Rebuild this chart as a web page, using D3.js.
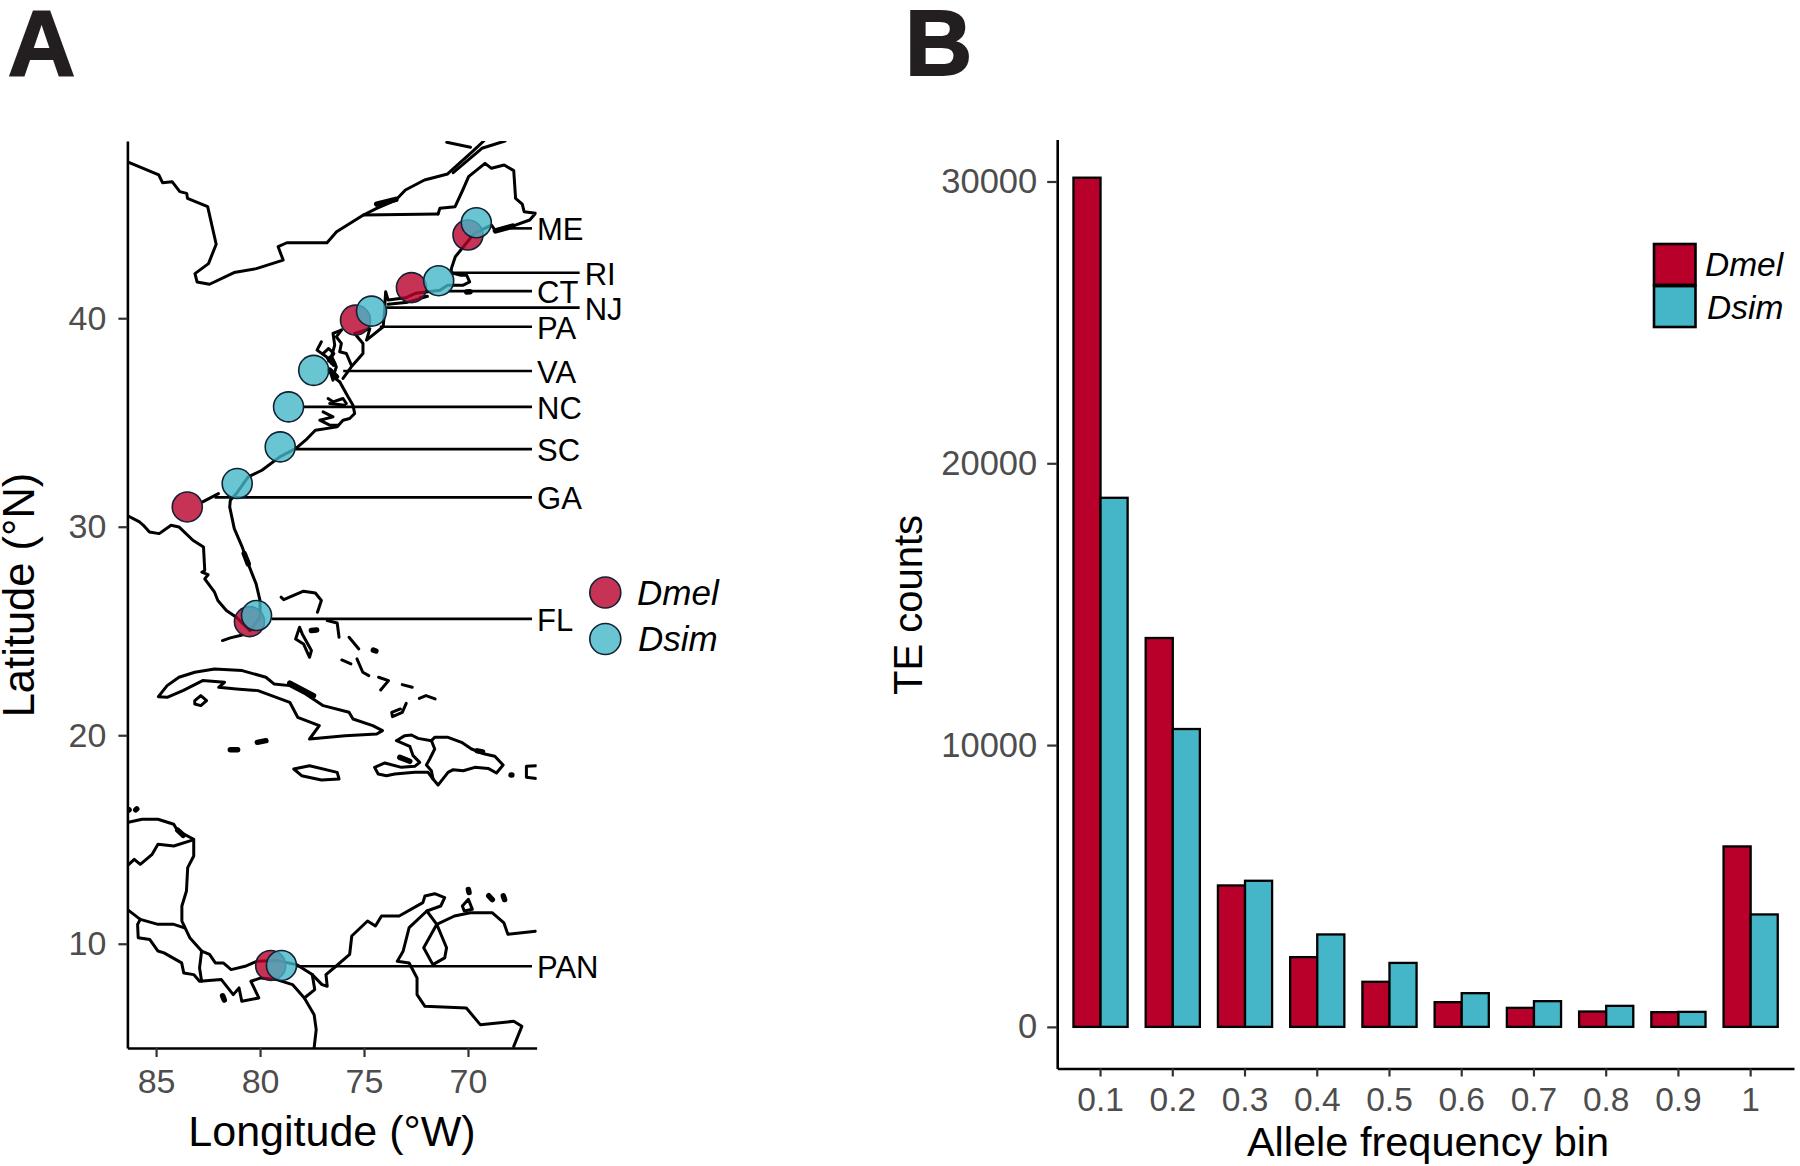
<!DOCTYPE html>
<html>
<head>
<meta charset="utf-8">
<script src="https://cdnjs.cloudflare.com/ajax/libs/d3/7.8.5/d3.min.js"></script>
<style>
  html, body { margin: 0; background: #fff; }
  svg { display: block; font-family: "Liberation Sans", Arial, sans-serif; }
  .axis .domain { stroke: #000; stroke-width: 2.6; }
  .axis line { stroke: #333; stroke-width: 2.2; }
  .axis text { fill: #4d4d4d; }
</style>
</head>
<body>
<svg id="chart" width="1800" height="1166"></svg>
<script>
// panel B values
const bins = ['0.1', '0.2', '0.3', '0.4', '0.5', '0.6', '0.7', '0.8', '0.9', '1'];
const dmelCounts = [30135, 13800, 5019, 2475, 1600, 877, 675, 545, 522, 6404];
const dsimCounts = [18775, 10570, 5185, 3280, 2270, 1196, 912, 746, 533, 3990];
const countTicks = [0, 10000, 20000, 30000];
const species = ['Dmel', 'Dsim'];

// panel A sampling sites, [lon W, lat N]
const dmelSites = [[70.0, 43.99], [72.72, 41.47], [75.41, 39.91], [83.5, 30.95], [80.51, 25.45], [79.49, 8.96]];
const dsimSites = [[69.6, 44.58], [71.41, 41.8], [74.64, 40.34], [77.42, 37.5], [78.63, 35.75], [79.03, 33.83], [81.1, 32.07], [80.17, 25.74], [78.97, 8.96]];
const lonTicks = [85, 80, 75, 70];
const latTicks = [10, 20, 30, 40];

// site labels: name, lat of leader, lon where leader starts, lon where it ends
const siteLabels = [
  ['ME', 44.31, 67.99, 66.92], ['RI', 42.18, 70.72, 64.63], ['CT', 41.30, 70.96, 66.92],
  ['NJ', 40.51, 73.92, 64.63], ['PA', 39.59, 74.24, 66.92], ['VA', 37.47, 76.0, 66.92],
  ['NC', 35.75, 77.9, 66.92], ['SC', 33.72, 78.29, 66.92], ['GA', 31.41, 82.19, 66.92],
  ['FL', 25.58, 79.43, 66.92], ['PAN', 8.92, 78.25, 66.92]
];

// coast and border outlines, [lon W, lat N]
const lakesBorder = [[86.4,47.51],[84.87,46.87],[84.69,46.5],[84.23,46.55],[83.86,46.07],[83.53,45.99],[83.49,45.75],[82.52,45.35],[82.11,43.55],[82.48,42.62],[83.13,42.14],[83.03,41.74],[82.43,41.63],[81.25,42.19],[80.18,42.38],[78.89,42.79],[79.13,43.43],[78.71,43.62],[76.78,43.62],[76.32,44.15],[75.03,44.95],[71.44,45.0]];
const stLawrence = [[75.03,44.95],[74.39,45.27],[73.47,45.67],[73.01,46.15],[72.09,46.63],[70.98,46.92],[69.79,47.99],[69.24,48.5]];
const stLawrenceSouth = [[70.71,46.98],[69.33,48.15],[68.22,48.5]];
const saguenay = [[71.02,48.44],[69.88,48.2]];
const maineAndNewEngland = [[71.44,45.0],[71.35,45.27],[70.62,45.35],[70.25,46.15],[69.97,46.79],[69.18,47.43],[68.87,47.19],[68.26,47.35],[67.8,47.08],[67.71,45.75],[67.39,45.47],[67.3,45.11],[66.75,45.03],[67.03,44.71],[67.85,44.42],[68.68,44.19],[68.87,44.47],[69.7,44.07],[70.15,43.51],[70.61,42.95],[70.8,42.38],[70.8,42.18],[70.34,42.06],[70.06,42.06],[69.92,41.74],[70.25,41.58],[70.98,41.58],[71.35,41.34],[72.5,41.2],[73.0,40.98],[73.84,40.87],[73.96,41.27],[74.0,40.63],[74.0,40.47],[74.08,39.59],[74.88,38.95],[74.72,39.5],[75.45,39.27],[75.05,38.79],[75.05,38.31],[75.61,37.67],[76.01,37.11]];
const longIsland = [[73.84,40.67],[72.9,40.77],[71.95,41.05],[72.3,41.0]];
const chesapeakeEast = [[76.09,39.43],[76.33,39.11],[76.09,38.79],[76.17,38.39],[75.85,38.31],[75.61,37.75]];
const chesapeakeWest = [[76.09,39.43],[76.49,39.27],[76.41,38.71],[76.57,38.15],[76.33,37.67],[76.49,37.19],[76.17,36.95]];
const potomac = [[77.05,38.87],[77.26,38.47],[76.81,38.15],[76.57,37.83]];
const rappahannock = [[76.97,38.3],[76.7,38.55],[76.45,38.3],[76.7,37.95]];
const jamesRiver = [[76.65,37.51],[76.49,37.03]];
const albemarle = [[76.73,36.15],[76.49,35.99],[76.01,36.15],[75.85,35.91]];
const albemarleSouth = [[76.65,35.91],[75.93,35.83]];
const pamlico = [[76.97,35.51],[76.49,35.27],[77.13,35.11],[76.65,34.87],[76.25,34.87]];
const southeastCoast = [[76.17,36.95],[75.77,36.23],[75.53,35.83],[75.45,35.43],[75.69,35.19],[76.01,35.11],[76.29,34.79],[77.34,34.63],[77.81,34.15],[78.29,33.75],[79.05,33.35],[79.91,32.71],[80.57,32.39],[81.14,31.59],[81.43,31.27],[81.46,30.95],[81.24,29.91],[80.86,29.03],[80.57,28.22],[80.19,27.26],[80.0,26.46],[80.0,25.66],[80.48,25.02],[81.14,25.66],[81.62,25.98],[82.03,26.46],[82.19,26.86],[82.66,27.5],[82.5,27.7],[82.8,27.82],[82.66,27.9],[82.72,29.03],[83.23,29.35],[83.9,29.99],[84.28,30.07],[84.85,29.67],[85.32,29.75],[85.61,30.07],[85.8,30.23],[86.41,30.55]];
const gaConnector = [[82.76,31.19],[82.0,31.59]];
const floridaKeys = [[81.81,24.54],[81.43,24.67],[80.86,24.81]];
const grandBahama = [[78.99,26.62],[78.86,26.5],[77.91,26.91],[77.34,26.82],[77.05,26.46],[77.24,25.9]];
const andros = [[78.29,24.62],[78.1,25.18],[77.97,24.86],[77.53,24.06],[77.62,23.74],[77.91,24.38],[78.29,24.62]];
const eleuthera = [[76.77,25.5],[76.29,25.38],[76.2,24.7]];
const catIsland = [[75.72,24.7],[75.25,24.14]];
const exuma = [[76.07,23.61],[75.63,23.42]];
const longIslandBahamas = [[75.34,23.66],[75.06,23.02],[74.77,22.86]];
const acklins = [[74.3,22.78],[73.82,22.62],[74.2,22.17]];
const mayaguana = [[73.16,22.43],[72.68,22.3]];
const caicos = [[72.34,21.77],[72.02,21.9],[71.58,21.74]];
const inagua = [[72.97,21.53],[73.16,21.1],[73.63,20.89],[73.67,21.1],[73.25,21.26]];
const cuba = [[84.89,21.85],[84.47,22.38],[83.9,22.78],[83.14,23.02],[82.19,23.18],[80.86,23.1],[79.72,22.78],[79.33,22.46],[78.57,22.38],[77.81,21.98],[76.96,21.42],[75.72,21.1],[75.53,20.78],[74.58,20.46],[74.11,20.22],[74.39,20.06],[75.91,19.98],[77.62,19.82],[77.15,20.46],[78.19,20.86],[78.57,21.58],[80.1,22.14],[81.14,22.22],[81.99,22.3],[81.71,22.54],[82.76,22.62],[83.71,22.14],[84.47,21.82],[84.89,21.85]];
const isleOfYouth = [[83.14,21.66],[82.85,21.9],[82.57,21.66],[82.85,21.42],[83.14,21.5],[83.14,21.66]];
const jamaica = [[78.38,18.38],[77.62,18.54],[76.29,18.22],[76.2,17.9],[77.05,17.85],[78.0,18.06],[78.38,18.38]];
const hispaniola = [[73.44,19.74],[73.04,19.98],[72.72,20.01],[72.4,19.85],[71.76,19.74],[71.6,19.9],[70.96,19.9],[70.31,19.66],[69.83,19.34],[69.19,19.1],[68.71,18.99],[68.31,18.57],[68.63,18.19],[69.03,18.41],[69.67,18.46],[70.23,18.3],[70.71,18.35],[70.96,18.22],[71.44,17.61],[71.68,17.9],[71.92,18.22],[72.56,18.22],[73.52,18.14],[73.92,18.06],[74.32,18.14],[74.49,18.46],[74.0,18.67],[73.2,18.46],[72.56,18.51],[72.32,18.7],[72.64,19.02],[72.8,19.47],[73.44,19.74]];
const haitiBorder = [[71.76,19.74],[71.6,19.34],[71.84,18.86],[72.0,18.57],[71.76,18.3],[71.68,17.9]];
const puertoRico = [[66.71,18.54],[67.19,18.51],[67.19,17.98],[66.71,17.93]];
const caribbeanCoast = [[86.39,15.81],[85.67,15.97],[84.91,15.97],[84.15,15.73],[83.96,15.41],[83.19,15.01],[83.19,14.21],[83.48,13.65],[83.54,12.53],[83.76,11.81],[83.76,11.09],[83.38,10.29],[82.81,9.65],[82.43,9.49],[82.15,9.08],[81.77,9.08],[81.39,8.76],[80.72,8.92],[80.15,9.16],[79.2,9.2],[78.25,9.0],[77.49,8.52],[77.02,8.04],[76.77,7.96],[76.83,8.52],[76.35,8.92],[75.69,9.49],[75.59,10.37],[74.83,11.09],[74.45,10.85],[74.16,11.33],[73.31,11.33],[72.17,11.97],[72.07,12.29],[71.6,12.4],[71.12,12.21],[71.31,11.81],[71.98,11.57],[71.5,10.93],[70.65,11.33],[69.89,11.49],[68.84,11.49],[68.27,11.0],[68.08,10.45],[66.75,10.6]];
const maracaibo = [[71.5,10.93],[72.13,9.81],[71.69,9.0],[71.12,9.32],[71.03,9.81],[71.5,10.93]];
const colombiaBorder = [[71.98,11.57],[72.83,10.77],[73.12,9.64],[73.4,9.16],[72.83,9.08],[72.45,8.36],[72.45,7.56],[72.07,7.0],[70.08,6.92],[69.41,6.12],[67.8,6.28],[67.41,6.04],[67.8,5.08]];
const nicaraguaBorder = [[86.39,11.65],[85.76,11.17],[84.91,10.93],[84.15,10.93],[83.67,10.77]];
const hondurasBorder = [[86.39,13.73],[86.05,14.05],[85.76,13.81],[85.19,14.29],[84.91,14.77],[84.15,14.69],[83.29,14.96]];
const pacificCoast = [[85.76,11.17],[85.89,10.93],[85.86,10.29],[85.3,10.2],[84.91,9.65],[84.62,9.56],[83.77,9.08],[83.67,8.6],[83.19,8.52],[82.91,8.2],[81.86,8.28],[81.29,7.56],[81.01,7.88],[80.88,7.24],[80.06,7.4],[80.44,8.2],[79.96,8.36],[79.2,8.28],[78.44,8.04],[77.87,7.4],[77.4,6.6],[77.3,5.88],[77.4,5.0]];
const panamaBorder = [[82.81,9.65],[82.91,8.84],[82.81,8.2]];
const darienGulf = [[77.87,7.4],[77.37,7.8],[77.49,8.52]];
const paraguana = [[70.27,11.81],[69.98,12.13],[69.79,11.65],[70.18,11.57],[70.27,11.81]];

const outlines = [lakesBorder, stLawrence, stLawrenceSouth, saguenay, maineAndNewEngland, longIsland,
  chesapeakeEast, chesapeakeWest, potomac, rappahannock, jamesRiver, albemarle, albemarleSouth, pamlico, southeastCoast,
  gaConnector, floridaKeys, grandBahama, andros, eleuthera, catIsland, exuma, longIslandBahamas, acklins,
  mayaguana, caicos, inagua, cuba, isleOfYouth, jamaica, hispaniola, haitiBorder, puertoRico, caribbeanCoast,
  maracaibo, colombiaBorder, nicaraguaBorder, hondurasBorder, pacificCoast, panamaBorder, darienGulf, paraguana];

// small islands and thick bits of coast
const blobs = [
  [[74.39,45.47],[73.47,45.7]], [[70.06,41.26],[69.9,41.27]], [[77.53,25.02],[77.28,25.05]],
  [[74.55,24.08],[74.43,24.04]], [[81.43,19.31],[81.08,19.31]], [[80.13,19.66],[79.72,19.74]],
  [[73.28,18.94],[72.8,18.75]], [[69.55,19.25],[69.3,19.2]], [[67.93,18.09],[67.89,18.09]],
  [[86.33,16.4],[86.3,16.42]], [[85.98,16.42],[85.93,16.47]], [[81.8,7.5],[81.72,7.3]],
  [[69.98,12.6],[69.95,12.46]], [[69.0,12.3],[68.83,12.12]], [[68.3,12.3],[68.24,12.12]],
  [[80.76,28.71],[80.57,28.22]], [[68.68,44.19],[67.85,44.42]], [[78.57,22.5],[77.43,21.9]],
  [[76.65,37.51],[76.33,37.2]], [[76.6,38.1],[76.45,37.8]], [[83.96,15.45],[83.7,15.2]]
];

const RED = '#b8002a';
const TEAL = '#45b6c8';
const svg = d3.select('#chart');

/* ---------- panel A: map ---------- */
const mapX = d3.scaleLinear().domain([86.38, 66.7]).range([127.4, 536.6]);
const mapY = d3.scaleLinear().domain([5, 48.5]).range([1048, 141]);

svg.append('clipPath').attr('id', 'mapClip').append('rect')
  .attr('x', mapX.range()[0]).attr('y', mapY.range()[1])
  .attr('width', mapX.range()[1] - mapX.range()[0])
  .attr('height', mapY.range()[0] - mapY.range()[1]);

const outlinePath = d3.line().x(d => mapX(d[0])).y(d => mapY(d[1]));
const mapLayer = svg.append('g').attr('clip-path', 'url(#mapClip)');

mapLayer.selectAll('path.coast').data(outlines).enter().append('path')
  .attr('class', 'coast')
  .attr('d', outlinePath)
  .attr('fill', 'none').attr('stroke', '#000').attr('stroke-width', 3)
  .attr('stroke-linejoin', 'round').attr('stroke-linecap', 'round');

mapLayer.selectAll('path.blob').data(blobs).enter().append('path')
  .attr('class', 'blob')
  .attr('d', outlinePath)
  .attr('fill', 'none').attr('stroke', '#000').attr('stroke-width', 5.5)
  .attr('stroke-linecap', 'round');

svg.selectAll('line.leader').data(siteLabels).enter().append('line')
  .attr('class', 'leader')
  .attr('x1', d => mapX(d[2])).attr('x2', d => mapX(d[3]))
  .attr('y1', d => mapY(d[1])).attr('y2', d => mapY(d[1]))
  .attr('stroke', '#000').attr('stroke-width', 2.6);

svg.selectAll('text.site').data(siteLabels).enter().append('text')
  .attr('class', 'site')
  .attr('x', d => mapX(d[3]) + 5)
  .attr('y', d => mapY(d[1]) + 12)
  .attr('font-size', 31).attr('fill', '#000')
  .text(d => d[0]);

function drawSites(sites, color) {
  svg.append('g').selectAll('circle').data(sites).enter().append('circle')
    .attr('cx', d => mapX(d[0])).attr('cy', d => mapY(d[1])).attr('r', 15)
    .attr('fill', color).attr('fill-opacity', 0.8)
    .attr('stroke', '#123').attr('stroke-width', 1.6);
}
drawSites(dmelSites, RED);
drawSites(dsimSites, TEAL);

const mapAxisX = svg.append('g').attr('class', 'axis')
  .attr('transform', `translate(0,${mapY(5)})`)
  .call(d3.axisBottom(mapX).tickValues(lonTicks).tickSize(9).tickSizeOuter(0).tickPadding(12).tickFormat(d => d));
mapAxisX.selectAll('text').attr('font-size', 34).attr('font-family', null);
const mapAxisY = svg.append('g').attr('class', 'axis')
  .attr('transform', `translate(${mapX(86.38)},0)`)
  .call(d3.axisLeft(mapY).tickValues(latTicks).tickSize(9).tickSizeOuter(0).tickPadding(12).tickFormat(d => d));
mapAxisY.selectAll('text').attr('font-size', 34).attr('font-family', null);

svg.append('text').attr('x', 332).attr('y', 1146).attr('text-anchor', 'middle')
  .attr('font-size', 43).text('Longitude (°W)');
svg.append('text').attr('transform', 'translate(34,595) rotate(-90)').attr('text-anchor', 'middle')
  .attr('font-size', 43.5).text('Latitude (°N)');

// map legend
const mapLegendY = d3.scalePoint().domain(species).range([592.5, 639]);
species.forEach((s, i) => {
  svg.append('circle').attr('cx', 605.3).attr('cy', mapLegendY(s)).attr('r', 15.5)
    .attr('fill', i ? TEAL : RED).attr('fill-opacity', 0.8)
    .attr('stroke', '#123').attr('stroke-width', 1.6);
  svg.append('text').attr('x', i ? 638 : 637).attr('y', mapLegendY(s) + 12)
    .attr('font-size', 35).attr('font-style', 'italic').text(s);
});

/* ---------- panel B: bars ---------- */
const barX = d3.scaleBand().domain(bins).range([1057.2, 1794]).paddingInner(0).paddingOuter(0.1);
const barY = d3.scaleLinear().domain([-1477, 31490]).range([1068.5, 139.5]);
const barW = barX.step() * 0.375;

function drawBars(values, color, offset) {
  svg.append('g').selectAll('rect').data(values).enter().append('rect')
    .attr('x', (d, i) => barX(bins[i]) + barX.bandwidth() / 2 + offset)
    .attr('y', d => barY(d))
    .attr('width', barW)
    .attr('height', d => barY(0) - barY(d))
    .attr('fill', color).attr('stroke', '#000').attr('stroke-width', 2.3);
}
drawBars(dmelCounts, RED, -barW);
drawBars(dsimCounts, TEAL, 0);

const barAxisX = svg.append('g').attr('class', 'axis')
  .attr('transform', `translate(0,${barY.range()[0]})`)
  .call(d3.axisBottom(barX).tickSize(8).tickSizeOuter(0).tickPadding(11));
barAxisX.selectAll('text').attr('font-size', 33.5).attr('font-family', null);
const barAxisY = svg.append('g').attr('class', 'axis')
  .attr('transform', `translate(${barX.range()[0]},0)`)
  .call(d3.axisLeft(barY).tickValues(countTicks).tickSize(10).tickSizeOuter(0).tickPadding(10).tickFormat(d => d));
barAxisY.selectAll('text').attr('font-size', 34.5).attr('font-family', null);

svg.append('text').attr('x', 1428).attr('y', 1156).attr('text-anchor', 'middle')
  .attr('font-size', 41.5).text('Allele frequency bin');
svg.append('text').attr('transform', 'translate(922,605) rotate(-90)').attr('text-anchor', 'middle')
  .attr('font-size', 40).text('TE counts');

// bar legend
const barLegendY = d3.scaleBand().domain(species).range([244, 327]).paddingInner(0.03);
species.forEach((s, i) => {
  svg.append('rect').attr('x', 1654).attr('y', barLegendY(s))
    .attr('width', 41.5).attr('height', barLegendY.bandwidth())
    .attr('fill', i ? TEAL : RED).attr('stroke', '#000').attr('stroke-width', 2.6);
  svg.append('text').attr('x', i ? 1707 : 1705).attr('y', barLegendY(s) + barLegendY.bandwidth() / 2 + 12)
    .attr('font-size', 33.5).attr('font-style', 'italic').text(s);
});

// panel letters
[['A', 8], ['B', 905]].forEach(([letter, x]) => {
  svg.append('text').attr('x', x).attr('y', 75).attr('font-size', 93).attr('font-weight', 700)
    .attr('fill', '#231f20').attr('stroke', '#231f20').attr('stroke-width', 2).text(letter);
});
</script>
</body>
</html>
